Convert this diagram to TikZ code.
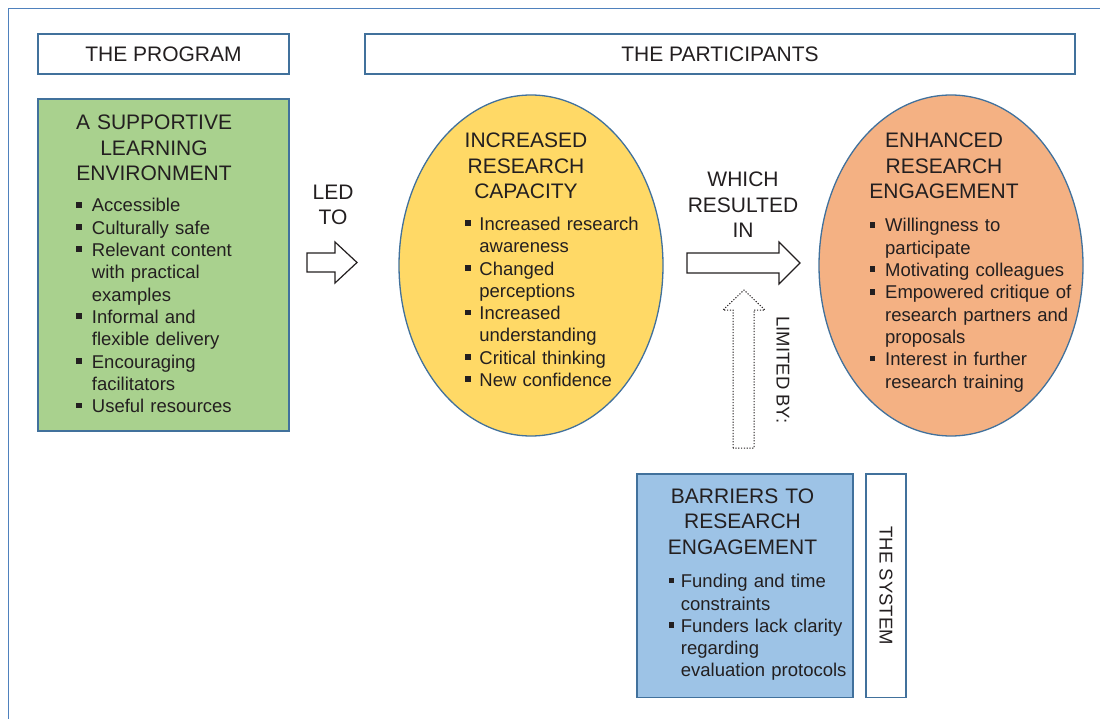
\documentclass[tikz,border=0pt]{standalone}
\usepackage{fontspec}
\setmainfont{Liberation Sans}
\usetikzlibrary{shapes.geometric}
\definecolor{edgeblue}{RGB}{65,113,156}
\definecolor{frameblue}{RGB}{79,129,189}
\definecolor{txt}{RGB}{35,31,32}
\definecolor{greenfill}{RGB}{169,209,142}
\definecolor{yellowfill}{RGB}{255,217,102}
\definecolor{orangefill}{RGB}{244,177,131}
\definecolor{bluefill}{RGB}{157,195,230}
\newlength\bind
\newcommand\bitem[1]{\noindent\hangindent=\bind\hangafter=1\makebox[\bind][l]{\rule[4.3pt]{5.8pt}{5.8pt}}#1\par}
\tikzset{
  box/.style={draw=edgeblue, line width=1.3pt, inner sep=0pt, outer sep=0pt},
  ttl/.style={text=txt, font=\fontsize{21}{25.5}\selectfont, align=center, text width=260pt, inner sep=0pt, anchor=base},
  lst/.style={text=txt, font=\fontsize{18.5}{22.3}\selectfont, align=left, text width=260pt, inner sep=0pt, anchor=base west},
  lbl/.style={text=txt, font=\fontsize{18.5}{22.3}\selectfont, inner sep=0pt},
  hdr/.style={box, fill=white, text=txt, font=\fontsize{21}{25.5}\selectfont},
  blockarrow/.style={draw=txt, line width=1.2pt, fill=white, line join=miter},
  dotarrow/.style={draw=txt, line width=1pt, dash pattern=on 1.2pt off 1.6pt, line join=miter},
}
\begin{document}
\begin{tikzpicture}[x=1pt,y=-1pt]
\useasboundingbox (0,0) rectangle (1100,719);
% outer frame
\draw[frameblue, line width=1.5pt] (8.3,719) -- (8.3,8.3) -- (1100,8.3);

% header boxes
\node[hdr, minimum width=251pt, minimum height=40pt] (prog) at (163.5,54) {THE PROGRAM};
\node[hdr, minimum width=710pt, minimum height=40pt] (part) at (720,54) {THE PARTICIPANTS};

% supportive learning environment
\node[box, fill=greenfill, minimum width=251pt, minimum height=332pt, anchor=north west] (env) at (38,99) {};
\node[ttl] (envt) at (154,130) {A SUPPORTIVE\\LEARNING\\ENVIRONMENT};
\node[lst] (envl) at (76,212) {\bind=15.7pt\bitem{Accessible}%
  \bitem{Culturally safe}%
  \bitem{Relevant content\newline with practical\newline examples}%
  \bitem{Informal and\newline flexible delivery}%
  \bitem{Encouraging\newline facilitators}%
  \bitem{Useful resources}};

% LED TO
\node[ttl] (led) at (333,199.3) {LED\\TO};
\draw[blockarrow] (307,253) -- (335,253) -- (335,242) -- (357,262.5) -- (335,283) -- (335,272) -- (307,272) -- cycle;

% increased research capacity
\node[box, ellipse, fill=yellowfill, minimum width=264pt, minimum height=341pt] (cap) at (531,265.5) {};
\node[ttl] (capt) at (526,147.7) {INCREASED\\RESEARCH\\CAPACITY};
\node[lst] (capl) at (464.5,230.5) {\bind=14.7pt\bitem{Increased research\newline awareness}%
  \bitem{Changed\newline perceptions}%
  \bitem{Increased\newline understanding}%
  \bitem{Critical thinking}%
  \bitem{New confidence}};

% WHICH RESULTED IN
\node[ttl] (which) at (743,187) {WHICH\\RESULTED\\IN};
\draw[blockarrow] (687,253) -- (779,253) -- (779,242) -- (800,263) -- (779,284) -- (779,273) -- (687,273) -- cycle;

% enhanced research engagement
\node[box, ellipse, fill=orangefill, minimum width=264pt, minimum height=341pt] (eng) at (951,265.5) {};
\node[ttl] (engt) at (944,148) {ENHANCED\\RESEARCH\\ENGAGEMENT};
\node[lst] (engl) at (869.3,232) {\bind=15.7pt\bitem{Willingness to\newline participate}%
  \bitem{Motivating colleagues}%
  \bitem{Empowered critique of\newline research partners and\newline proposals}%
  \bitem{Interest in further\newline research training}};

% limited by
\draw[dotarrow] (733,448) -- (733,310) -- (723,310) -- (744,290) -- (765,310) -- (754,310) -- (754,448) -- cycle;
\node[lbl, rotate=-90] (lim) at (783,370) {LIMITED BY:};

% barriers
\node[box, fill=bluefill, minimum width=216pt, minimum height=223.5pt, anchor=north west] (bar) at (637,474) {};
\node[ttl] (bart) at (742.5,503) {BARRIERS TO\\RESEARCH\\ENGAGEMENT};
\node[lst] (barl) at (668.3,587.7) {\bind=12.4pt\bitem{Funding and time\newline constraints}%
  \bitem{Funders lack clarity\newline regarding\newline evaluation protocols}};

% the system
\node[box, fill=white, rotate=-90, minimum width=223.5pt, minimum height=40pt, text=txt, font=\fontsize{18.5}{22.3}\selectfont] (sys) at (886,585.75) {THE SYSTEM};
\end{tikzpicture}
\end{document}
